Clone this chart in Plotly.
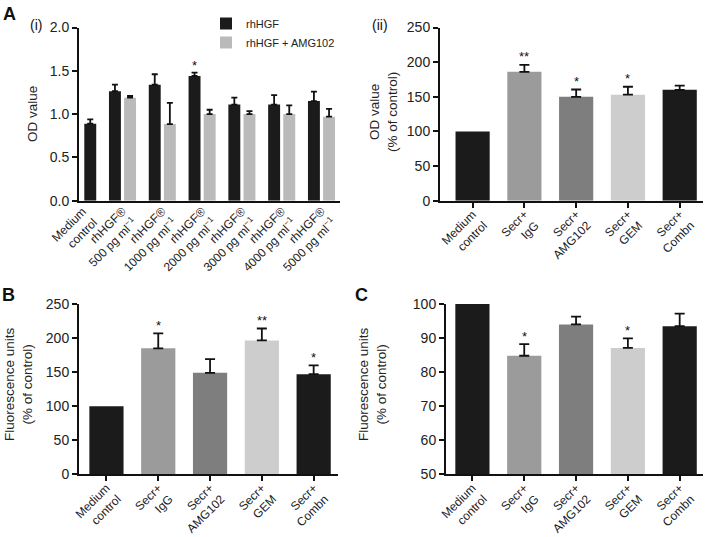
import plotly.graph_objects as go

FONT = "Liberation Sans, Arial, Helvetica, sans-serif"
BLACK = "#1b1b1b"

# ---------- Panel A(i) ----------
A1_categories = ["Medium<br>control",
                 "rhHGF®<br>500 pg ml<sup>−1</sup>",
                 "rhHGF®<br>1000 pg ml<sup>−1</sup>",
                 "rhHGF®<br>2000 pg ml<sup>−1</sup>",
                 "rhHGF®<br>3000 pg ml<sup>−1</sup>",
                 "rhHGF®<br>4000 pg ml<sup>−1</sup>",
                 "rhHGF®<br>5000 pg ml<sup>−1</sup>"]
A1_control = [0.89]
A1_control_err = [0.05]
A1_rhHGF = [1.265, 1.34, 1.44, 1.11, 1.11, 1.15]
A1_rhHGF_err = [0.075, 0.12, 0.04, 0.08, 0.11, 0.11]
A1_amg = [1.19, 0.885, 1.00, 1.00, 1.00, 0.97]
A1_amg_err = [0.02, 0.245, 0.05, 0.035, 0.10, 0.09]
A1_stars_rhHGF = ["", "", "*", "", "", ""]
A1_yticks = [0.0, 0.5, 1.0, 1.5, 2.0]
A1_yticklabels = ["0.0", "0.5", "1.0", "1.5", "2.0"]

# ---------- Panels A(ii), B, C ----------
SECR_categories = ["Medium<br>control", "Secr+<br>IgG", "Secr+<br>AMG102",
                   "Secr+<br>GEM", "Secr+<br>Combn"]
SECR_colors = ["#1b1b1b", "#9b9b9b", "#7e7e7e", "#cdcdcd", "#1b1b1b"]

A2_values = [100, 186, 150, 153, 160]
A2_err = [None, 10, 10.5, 11.5, 6]
A2_stars = ["", "**", "*", "*", ""]

B_values = [100, 185, 149, 196.5, 147]
B_err = [None, 22, 20, 17.5, 13]
B_stars = ["", "*", "", "**", "*"]

C_values = [100, 84.8, 94, 87.1, 93.5]
C_err = [None, 3.4, 2.3, 2.8, 3.7]
C_stars = ["", "*", "", "*", ""]

W, H = 706, 537


def px_x(p):
    return p / W


def px_y(p):
    return 1 - p / H


def err_style(arr, width):
    return dict(type="data", symmetric=False, array=arr, arrayminus=[0] * len(arr),
                color="#111", thickness=1.8, width=width)


fig = go.Figure()

# A(i) bars
fig.add_trace(go.Bar(x=A1_categories[1:], y=A1_rhHGF, name="rhHGF",
                     marker=dict(color=BLACK, line=dict(width=0)),
                     offset=-0.34, width=0.30, error_y=err_style(A1_rhHGF_err, 3),
                     xaxis="x", yaxis="y"))
fig.add_trace(go.Bar(x=A1_categories[1:], y=A1_amg, name="rhHGF + AMG102",
                     marker=dict(color="#bababa", line=dict(width=0)),
                     offset=0.04, width=0.30, error_y=err_style(A1_amg_err, 3),
                     xaxis="x", yaxis="y"))
fig.add_trace(go.Bar(x=A1_categories[:1], y=A1_control, showlegend=False,
                     marker=dict(color=BLACK, line=dict(width=0)),
                     offset=0.04, width=0.30, error_y=err_style(A1_control_err, 3),
                     xaxis="x", yaxis="y"))

annotations = []
for cat, v, e, s in zip(A1_categories[1:], A1_rhHGF, A1_rhHGF_err, A1_stars_rhHGF):
    if s:
        annotations.append(dict(x=cat, y=v + e, xref="x", yref="y", text=s,
                                showarrow=False, xshift=-7.5, yshift=7,
                                font=dict(size=13, color="#111", family=FONT)))

panels = [
    ("x2", "y2", A2_values, A2_err, A2_stars),
    ("x3", "y3", B_values, B_err, B_stars),
    ("x4", "y4", C_values, C_err, C_stars),
]
for xa, ya, vals, errs, stars in panels:
    # control bar (no error bar)
    fig.add_trace(go.Bar(x=SECR_categories[:1], y=vals[:1], showlegend=False,
                         marker=dict(color=SECR_colors[:1], line=dict(width=0)),
                         width=0.66, xaxis=xa, yaxis=ya))
    fig.add_trace(go.Bar(x=SECR_categories[1:], y=vals[1:], showlegend=False,
                         marker=dict(color=SECR_colors[1:], line=dict(width=0)),
                         width=0.66, error_y=err_style(errs[1:], 5),
                         xaxis=xa, yaxis=ya))
    for cat, v, e, s in zip(SECR_categories, vals, errs, stars):
        if s:
            annotations.append(dict(x=cat, y=v + (e or 0), xref=xa, yref=ya, text=s,
                                    showarrow=False, yshift=8,
                                    font=dict(size=13, color="#111", family=FONT)))

axis_common = dict(showline=True, linecolor="#111", linewidth=2, showgrid=False,
                   zeroline=False, ticks="outside", ticklen=5, tickwidth=2,
                   tickcolor="#111", automargin=False,
                   tickfont=dict(size=14, color="#222", family=FONT))
xaxis_common = dict(axis_common, tickangle=-45, type="category",
                    categoryorder="array", ticklabelstandoff=-5,
                    tickfont=dict(size=12, color="#222", family=FONT))

yA = [px_y(200.7), px_y(27.5)]
yB = [px_y(474.3), px_y(304)]

fig.update_layout(
    template="none",
    width=W, height=H,
    margin=dict(l=0, r=0, t=0, b=0, pad=0),
    paper_bgcolor="white", plot_bgcolor="white",
    font=dict(family=FONT, color="#222"),
    barmode="overlay",
    showlegend=True,
    legend=dict(x=px_x(206), y=px_y(9), xanchor="left", yanchor="top",
                font=dict(size=11, family=FONT, color="#222"),
                bgcolor="rgba(0,0,0,0)", tracegroupgap=0, itemwidth=30,
                borderwidth=0),
    xaxis=dict(xaxis_common, domain=[px_x(79), px_x(340)], range=[-0.093, 6.465],
               categoryarray=A1_categories, ticklabelstandoff=-3,
               ticks="", anchor="y", tickfont=dict(size=12, color="#222", family=FONT)),
    yaxis=dict(axis_common, domain=yA, range=[0, 2.0], tickvals=A1_yticks,
               ticktext=A1_yticklabels, anchor="x"),
    xaxis2=dict(xaxis_common, domain=[px_x(440), px_x(703)], range=[-0.63, 4.45],
                categoryarray=SECR_categories, anchor="y2"),
    yaxis2=dict(axis_common, domain=yA, range=[0, 250], tickvals=[0, 50, 100, 150, 200, 250],
                anchor="x2"),
    xaxis3=dict(xaxis_common, domain=[px_x(79), px_x(338)], range=[-0.53, 4.47],
                categoryarray=SECR_categories, anchor="y3"),
    yaxis3=dict(axis_common, domain=yB, range=[0, 250], tickvals=[0, 50, 100, 150, 200, 250],
                anchor="x3"),
    xaxis4=dict(xaxis_common, domain=[px_x(446), px_x(703)], range=[-0.51, 4.45],
                categoryarray=SECR_categories, anchor="y4"),
    yaxis4=dict(axis_common, domain=yB, range=[50, 100], tickvals=[50, 60, 70, 80, 90, 100],
                anchor="x4"),
)

# Panel letters
labels = [
    ("<b>A</b>", 9, 14, 18),
    ("(i)", 36, 25, 14),
    ("(ii)", 380, 25, 14),
    ("<b>B</b>", 8, 295, 18),
    ("<b>C</b>", 362, 295, 18),
]
for txt, x, y, size in labels:
    annotations.append(dict(x=px_x(x), y=px_y(y), xref="paper", yref="paper", text=txt,
                            showarrow=False, xanchor="center", yanchor="middle",
                            font=dict(size=size, color="#111", family=FONT)))

# Axis titles
ytitles = [
    ("OD value", 32, 114),
    ("OD value<br>(% of control)", 383, 112),
    ("Fluorescence units<br>(% of control)", 18, 384),
    ("Fluorescence units<br>(% of control)", 372, 384),
]
for txt, x, y in ytitles:
    annotations.append(dict(x=px_x(x), y=px_y(y), xref="paper", yref="paper", text=txt,
                            showarrow=False, textangle=-90, xanchor="center",
                            yanchor="middle",
                            font=dict(size=13.5, color="#222", family=FONT)))

fig.update_layout(annotations=annotations)
fig.write_html("out.html", config={"displayModeBar": False},
               post_script="document.body.style.margin='0';document.body.style.overflow='hidden';")
